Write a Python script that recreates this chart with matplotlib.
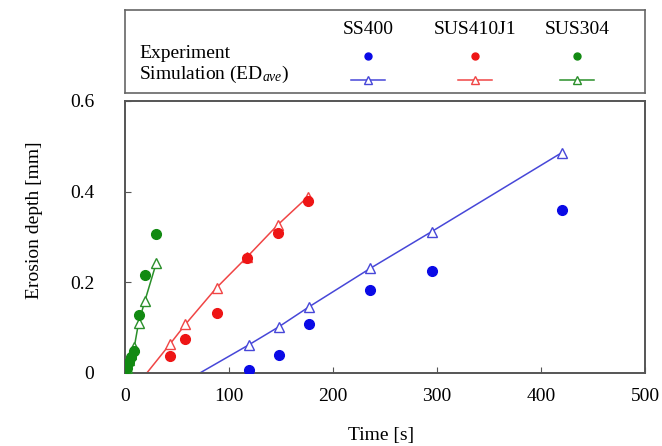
import matplotlib
matplotlib.use("Agg")
import matplotlib.pyplot as plt

plt.rcParams['font.family'] = ['Liberation Serif', 'DejaVu Serif']
plt.rcParams['mathtext.fontset'] = 'custom'
plt.rcParams['mathtext.rm'] = 'Liberation Serif'
plt.rcParams['mathtext.it'] = 'Liberation Serif:italic'

# Experiment (filled circles) and simulation (open triangles), erosion depth in mm
materials = ["SS400", "SUS410J1", "SUS304"]
colors = ["#0a0ae6", "#ee1515", "#128a12"]
line_colors = ["#4747d8", "#f04545", "#2a8f2a"]

ss400_t = [119, 148, 177, 236, 295, 420]
ss400_exp = [0.007, 0.040, 0.109, 0.184, 0.226, 0.360]
ss400_sim = [0.062, 0.102, 0.146, 0.231, 0.312, 0.486]
ss400_onset = 72

sus410_t = [43, 58, 88, 117, 147, 176]
sus410_exp = [0.037, 0.076, 0.133, 0.253, 0.308, 0.380]
sus410_sim = [0.063, 0.107, 0.188, 0.255, 0.327, 0.389]
sus410_onset = 21

sus304_t = [2, 4, 6, 9, 13, 19, 30]
sus304_exp = [0.012, 0.025, 0.036, 0.048, 0.129, 0.217, 0.307]
sus304_sim = [0.012, 0.028, 0.042, 0.058, 0.110, 0.158, 0.242]
sus304_onset = 0.5

series = [
    (ss400_t, ss400_exp, ss400_sim, ss400_onset),
    (sus410_t, sus410_exp, sus410_sim, sus410_onset),
    (sus304_t, sus304_exp, sus304_sim, sus304_onset),
]

fig = plt.figure(figsize=(6.62, 4.46), dpi=100)
ax = fig.add_axes([0.1888, 0.1637, 0.7855, 0.6099])

for (t, exp, sim, onset), c, lc in zip(series, colors, line_colors):
    ax.plot([onset] + t, [0] + sim, color=lc, lw=1.1, zorder=2)
    ax.plot(t, sim, ls='none', marker='^', ms=7, mfc='white', mec=lc, mew=1.0, zorder=3)
    ax.plot(t, exp, ls='none', marker='o', ms=7, color=c, zorder=4)

ax.set_xlim(0, 500)
ax.set_ylim(0, 0.6)
ax.set_xticks([0, 100, 200, 300, 400, 500])
ax.set_yticks([0, 0.2, 0.4, 0.6])
ax.set_yticklabels(["0", "0.2", "0.4", "0.6"])
ax.tick_params(direction='in', length=4, width=0.8, color='#555555', labelsize=14)
ax.tick_params(axis='y', pad=22)
ax.tick_params(axis='x', pad=11)
for s in ax.spines.values():
    s.set_color('#555555')
    s.set_linewidth(1.4)
ax.set_xlabel("Time [s]", fontsize=14)
ax.set_ylabel("Erosion depth [mm]", fontsize=14)
ax.xaxis.set_label_coords(0.492, -0.2)
ax.yaxis.set_label_coords(-0.158, 0.56)

# Legend panel above the plot
lg = fig.add_axes([0.1888, 0.7915, 0.7855, 0.186])
lg.set_xlim(0, 1)
lg.set_ylim(0, 1)
lg.set_xticks([])
lg.set_yticks([])
for s in lg.spines.values():
    s.set_color('#666666')
    s.set_linewidth(1.2)

col_x = [0.467, 0.673, 0.869]
lg.text(0.027, 0.48, "Experiment", fontsize=14, va='center', ha='left')
lg.text(0.027, 0.22, r"Simulation (ED$_{\it{ave}}$)", fontsize=14, va='center', ha='left')
for name, x, c, lc in zip(materials, col_x, colors, line_colors):
    lg.text(x, 0.76, name, fontsize=14, ha='center', va='center')
    lg.plot([x], [0.45], ls='none', marker='o', ms=5, color=c)
    lg.plot([x - 0.033, x + 0.033], [0.16, 0.16], color=lc, lw=1.1)
    lg.plot([x], [0.16], ls='none', marker='^', ms=6, mfc='white', mec=lc, mew=1.0)

fig.savefig("out.png", dpi=100)
